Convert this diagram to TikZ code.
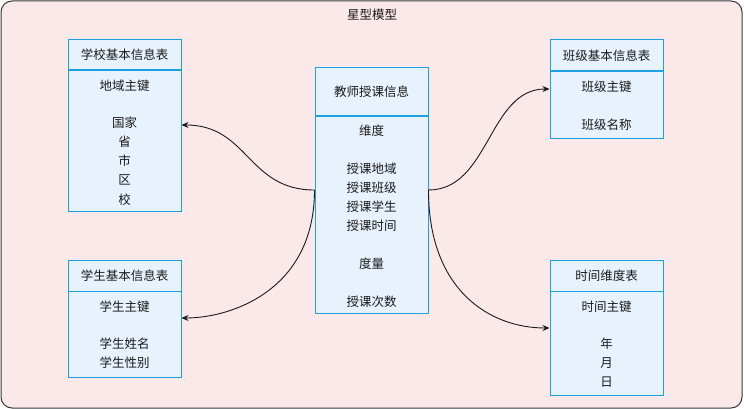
\documentclass[tikz,border=0pt]{standalone}
\usepackage{fontspec}
\newfontfamily\cjk{Noto Sans CJK SC}
\usetikzlibrary{arrows.meta}
\definecolor{bgpink}{HTML}{FAE9E8}
\definecolor{bgline}{HTML}{36393D}
\definecolor{tblfill}{HTML}{E8F2FC}
\definecolor{tblline}{HTML}{1BA1E2}
\definecolor{ink}{HTML}{1A1A1A}
\tikzset{
  txt/.style={font=\cjk\fontsize{12.5}{19.3}\selectfont, text=ink},
  hdr/.style={txt, draw=tblline, fill=tblfill, line width=1pt, minimum width=113pt, inner sep=0pt},
  tblbody/.style={draw=tblline, fill=tblfill, line width=1pt, minimum width=113pt, inner sep=0pt, anchor=north},
  bodytext/.style={txt, align=center, anchor=north, inner sep=0pt},
  link/.style={draw=ink, line width=0.9pt, -{Stealth[length=7pt,width=6pt]}}
}
\begin{document}
\begin{tikzpicture}[x=1pt,y=-1pt]
\useasboundingbox (0,0) rectangle (744,409);
% outer container
\draw[draw=bgline, fill=bgpink, line width=1pt, rounded corners=11pt] (1,1) rectangle (742,408);
\node[txt] (title) at (372,15) {星型模型};

% school table
\node[hdr, minimum height=30pt] (schoolH) at (124.5,55) {学校基本信息表};
\node[tblbody, minimum height=141pt] (school) at (124.5,70) {};
\node[bodytext] (schoolT) at (124.5,79.5) {地域主键\\[17.5pt]国家\\省\\市\\区\\校};

% student table
\node[hdr, minimum height=31pt] (studH) at (124.5,275.5) {学生基本信息表};
\node[tblbody, minimum height=86pt] (stud) at (124.5,291) {};
\node[bodytext] (studT) at (124.5,300.5) {学生主键\\[18pt]学生姓名\\学生性别};

% fact table
\node[hdr, minimum height=48pt] (teachH) at (371.5,92) {教师授课信息};
\node[tblbody, minimum height=197pt] (teach) at (371.5,116) {};
\node[bodytext] (teachT) at (371.5,124.5) {维度\\[18.5pt]授课地域\\授课班级\\授课学生\\授课时间\\[18.5pt]度量\\[18.5pt]授课次数};

% class table
\node[hdr, minimum height=31pt] (clsH) at (606.5,55.5) {班级基本信息表};
\node[tblbody, minimum height=67pt] (cls) at (606.5,71) {};
\node[bodytext] (clsT) at (606.5,80.5) {班级主键\\[18.5pt]班级名称};

% time table
\node[hdr, minimum height=31pt] (timeH) at (606.5,275.5) {时间维度表};
\node[tblbody, minimum height=104pt] (time) at (606.5,291) {};
\node[bodytext] (timeT) at (606.5,300.5) {时间主键\\[17.5pt]年\\月\\日};

% connector end points
\coordinate (cl) at ([yshift=-74pt]teach.north west);
\coordinate (cr) at ([yshift=-74pt]teach.north east);
\coordinate (schoolIn) at ([yshift=-55pt]school.north east);
\coordinate (studIn) at ([yshift=-27pt]stud.north east);
\coordinate (clsIn) at ([yshift=-18pt]cls.north west);
\coordinate (timeIn) at ([yshift=-37pt]time.north west);

% connectors
\draw[link] (cl) .. controls +(-67,0) and +(67,0) .. (schoolIn);
\draw[link] (cl) .. controls +(0,100) and +(50,0) .. (studIn);
\draw[link] (cr) .. controls +(61,0) and +(-61,0) .. (clsIn);
\draw[link] (cr) .. controls +(0,100) and +(-60,0) .. (timeIn);
\end{tikzpicture}
\end{document}
